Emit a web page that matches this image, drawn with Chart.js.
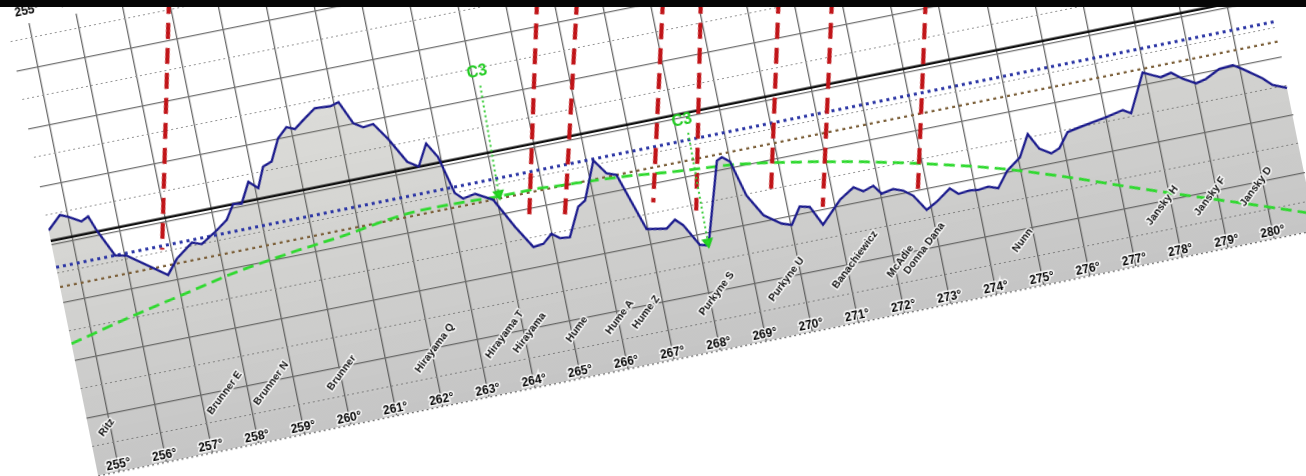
<!DOCTYPE html>
<html>
<head>
<meta charset="utf-8">
<title>Lunar limb profile 255°–280°</title>
<script src="https://cdn.jsdelivr.net/npm/chart.js@4.4.1/dist/chart.umd.min.js"></script>
<style>
  html, body { margin: 0; padding: 0; background: #fff; width: 1306px; height: 476px; overflow: hidden; }
  /* the whole plot is tilted so that the limb runs uphill to the right */
  #frame { position: absolute; left: -7.785px; top: -0.299px; width: 1270px; height: 500px;
           transform-origin: 0 0; transform: rotate(-11.4deg); }
  #topbar { position: absolute; left: 0; top: 0; width: 1306px; height: 7px; background: #060606; z-index: 5; }
</style>
</head>
<body>
<div id="frame"><canvas id="limb"></canvas></div>
<div id="topbar"></div>
<script>
// Axis position angles (degrees) and height grid (arcsec)
const degreeTicks = [255,256,257,258,259,260,261,262,263,264,265,266,267,268,269,270,271,272,273,274,275,276,277,278,279,280];
const heightGrid = [-2,-1.75,-1.5,-1.25,-1,-0.75,-0.5,-0.25,0,0.25,0.5,0.75,1,1.25,1.5,1.75];
const degMin = 254.53, degMax = 280.92;
const heightMin = -2, heightMax = 1.875;

// Limb profile
const profileDeg = [254.53,254.83,255.00,255.25,255.41,255.53,255.81,256.05,256.83,257.08,257.46,257.66,258.03,258.28,258.48,258.66,258.89,259.07,259.26,259.46,259.69,259.91,260.08,260.29,260.58,260.91,261.10,261.32,261.51,261.73,261.98,262.28,262.50,262.75,262.94,263.14,263.29,263.56,263.91,264.25,264.55,264.77,264.98,265.14,265.35,265.65,265.82,266.16,266.38,266.58,266.98,267.40,267.61,267.76,268.02,268.20,268.73,268.85,269.00,269.20,269.47,269.81,270.02,270.26,270.47,270.67,271.13,271.46,271.65,271.88,272.02,272.28,272.48,272.67,272.89,273.13,273.46,273.62,273.87,274.05,274.27,274.47,274.73,275.05,275.31,275.49,275.72,275.91,276.15,276.41,276.71,277.01,277.39,277.55,277.96,278.16,278.32,278.55,278.77,279.03,279.25,279.57,279.87,280.06,280.43,280.61,280.90];
const profileHeight = [0.12,0.23,0.20,0.14,0.17,0.04,-0.20,-0.22,-0.45,-0.33,-0.22,-0.25,-0.16,-0.09,0.03,0.02,0.19,0.12,0.29,0.32,0.50,0.58,0.55,0.61,0.69,0.68,0.70,0.50,0.45,0.46,0.31,0.09,0.03,0.21,0.08,-0.25,-0.31,-0.29,-0.37,-0.63,-0.83,-0.82,-0.75,-0.80,-0.81,-0.57,-0.53,-0.21,-0.34,-0.37,-0.87,-0.90,-0.84,-0.90,-1.09,-1.11,-0.42,-0.40,-0.45,-0.76,-0.95,-1.05,-1.08,-0.94,-0.96,-1.13,-0.95,-0.87,-0.92,-0.89,-0.97,-0.95,-0.98,-1.04,-1.18,-1.13,-1.04,-1.10,-1.09,-1.10,-1.09,-1.12,-0.99,-0.90,-0.72,-0.86,-0.92,-0.89,-0.77,-0.75,-0.73,-0.71,-0.68,-0.72,-0.40,-0.44,-0.47,-0.45,-0.52,-0.58,-0.56,-0.50,-0.49,-0.54,-0.65,-0.72,-0.77];

// Predicted path of the star relative to the limb (green dashed)
const pathDeg = [254.53,255.93,257.28,258.19,259.50,260.79,261.10,261.83,262.56,263.27,264.00,264.72,265.42,266.15,266.86,267.56,268.28,269.05,270.45,271.83,273.21,274.59,275.93,277.28,278.61,279.96,280.92];
const pathHeight = [-0.86,-0.73,-0.62,-0.545,-0.47,-0.41,-0.39,-0.35,-0.335,-0.34,-0.35,-0.35,-0.365,-0.38,-0.40,-0.43,-0.455,-0.48,-0.57,-0.68,-0.81,-0.96,-1.14,-1.34,-1.53,-1.72,-1.86];

// Reference levels
const meanLimbLevel = 0.03;      // black
const blueLevel = -0.20;         // blue dotted
const brownLevel = -0.37;        // brown dotted

// Observed events (red dashed chords)
const eventTopDeg = [258.01,265.67,266.50,268.29,269.08,270.70,271.81,273.76];
const eventTopHeight = [1.85,1.23,1.16,1.02,0.96,0.83,0.74,0.58];
const eventEndDeg = [256.81,264.56,265.33,267.23,268.09,269.70,270.74,272.79];
const eventEndHeight = [-0.23,-0.62,-0.63,-0.66,-0.80,-0.81,-0.98,-1.00];

// Contact markers
const contactNames = ['C3','C3'];
const contactLabelDeg = [264.11,268.17];
const contactLabelHeight = [0.72,-0.03];
const contactStartDeg = [264.12,268.25];
const contactStartHeight = [0.60,-0.14];
const contactTipDeg = [264.05,268.20];
const contactTipHeight = [-0.33,-1.08];

// Limb features
const craterNames = ['Ritz','Brunner E','Brunner N','Brunner','Hirayama Q','Hirayama T','Hirayama','Hume','Hume A','Hume Z','Purkyne S','Purkyne U','Banachiewicz','McAdie','Donna Dana','Nunn','Jansky H','Jansky F','Jansky D'];
const craterDeg = [254.91,257.51,258.52,260.03,262.07,263.58,264.11,265.11,266.05,266.62,268.17,269.68,271.19,272.13,272.68,274.76,277.81,278.84,279.84];

const level = (h) => [{x: degMin, y: h}, {x: degMax, y: h}];
const isMajor = (v) => { const k = (v - heightMin) / 0.5; return Math.abs(k - Math.round(k)) < 1e-6; };
const tickList = (arr) => (axis) => { axis.ticks = arr.map(v => ({value: v})); };

const datasets = [];

// grey shading under the profile
datasets.push({
  data: profileDeg.map((d, i) => ({x: d, y: profileHeight[i]})),
  borderWidth: 0, pointRadius: 0, fill: 'start', order: 9,
  backgroundColor: (c) => {
    const a = c.chart.chartArea;
    if (!a) return 'rgba(110,110,110,0.25)';
    const g = c.chart.ctx.createLinearGradient(0, a.top, 0, a.bottom);
    g.addColorStop(0, 'rgba(130,130,110,0.22)');
    g.addColorStop(1, 'rgba(75,75,75,0.32)');
    return g;
  }
});
// reference levels
datasets.push({ data: level(brownLevel), borderColor: '#7c603a', borderWidth: 2.4, borderDash: [3, 4], pointRadius: 0, order: 6 });
datasets.push({ data: level(blueLevel), borderColor: '#2a34a4', borderWidth: 3, borderDash: [3, 4], pointRadius: 0, order: 6 });
datasets.push({ data: level(meanLimbLevel), borderColor: '#111111', borderWidth: 2.5, pointRadius: 0, order: 6 });
// predicted path
datasets.push({ data: pathDeg.map((d, i) => ({x: d, y: pathHeight[i]})), borderColor: '#2fd92f', borderWidth: 2.8,
  borderDash: [11, 6], pointRadius: 0, cubicInterpolationMode: 'monotone', order: 5 });
// profile line
datasets.push({ data: profileDeg.map((d, i) => ({x: d, y: profileHeight[i]})), borderColor: '#1a1a8c', borderWidth: 2.3,
  pointRadius: 0, tension: 0, order: 4 });
// event chords
eventTopDeg.forEach((d, i) => {
  datasets.push({ data: [{x: d, y: eventTopHeight[i]}, {x: eventEndDeg[i], y: eventEndHeight[i]}],
    borderColor: '#c01418', borderWidth: 4.2, borderDash: [16, 9], pointRadius: 0, order: 2 });
});
// contact leaders
contactStartDeg.forEach((d, i) => {
  datasets.push({ data: [{x: d, y: contactStartHeight[i]}, {x: contactTipDeg[i], y: contactTipHeight[i]}],
    borderColor: '#35cc35', borderWidth: 2, borderDash: [2, 3], pointRadius: [0, 5], pointStyle: 'triangle',
    rotation: 180, pointBackgroundColor: '#22dd22', pointBorderColor: '#22cc22', order: 1 });
});

const labelFont = { family: '"Liberation Sans", Arial, sans-serif', size: 12, weight: 'bold' };

const featureLabels = {
  id: 'featureLabels',
  afterDatasetsDraw(chart) {
    const { ctx, scales: { x, y }, chartArea } = chart;
    ctx.save();
    // crater names, slanted, starting a fixed distance above the lower edge
    const ang = 42 * Math.PI / 180;
    const baseY = chartArea.bottom - 39;
    ctx.font = 'bold 10.5px "Liberation Sans", Arial, sans-serif';
    ctx.textAlign = 'left';
    ctx.textBaseline = 'middle';
    craterNames.forEach((name, i) => {
      const w = ctx.measureText(name).width;
      const sx = x.getPixelForValue(craterDeg[i]) - (w / 2) * Math.cos(ang);
      ctx.save();
      ctx.translate(sx, baseY);
      ctx.rotate(-ang);
      ctx.lineJoin = 'round';
      ctx.lineWidth = 3;
      ctx.strokeStyle = 'rgba(255,255,255,0.85)';
      ctx.strokeText(name, 0, 0);
      ctx.fillStyle = '#111';
      ctx.fillText(name, 0, 0);
      ctx.restore();
    });
    // contact labels
    ctx.font = 'bold 16px "Liberation Sans", Arial, sans-serif';
    ctx.textAlign = 'center';
    contactNames.forEach((name, i) => {
      ctx.fillStyle = '#22cc22';
      ctx.fillText(name, x.getPixelForValue(contactLabelDeg[i]), y.getPixelForValue(contactLabelHeight[i]));
    });
    ctx.restore();
  }
};

new Chart(document.getElementById('limb'), {
  type: 'line',
  data: { datasets },
  options: {
    responsive: true,
    maintainAspectRatio: false,
    animation: false,
    devicePixelRatio: 1,
    layout: { padding: { left: 10, right: 17, top: 5, bottom: 12.75 } },
    plugins: { legend: { display: false }, tooltip: { enabled: false } },
    scales: {
      x: {
        type: 'linear', position: 'bottom', min: degMin, max: degMax,
        grid: { color: '#6a6a6a', lineWidth: 1.3, drawTicks: false },
        border: { display: false },
        ticks: { display: false },
        afterBuildTicks: tickList(degreeTicks),
        afterFit: (a) => { a.height = 0; }
      },
      xl: {
        type: 'linear', position: 'bottom', min: degMin, max: degMax,
        grid: { display: false, drawTicks: false },
        border: { display: false },
        ticks: { mirror: true, padding: -0.7, z: 1, color: '#000', font: labelFont, maxRotation: 0, autoSkip: false,
          textStrokeColor: 'rgba(255,255,255,0.9)', textStrokeWidth: 3,
          callback: (v) => v + '°' },
        afterBuildTicks: tickList(degreeTicks),
        afterFit: (a) => { a.height = 0; }
      },
      xt: {
        type: 'linear', position: 'top', min: degMin, max: degMax,
        grid: { display: false, drawTicks: false },
        border: { display: false },
        ticks: { padding: 5.5, color: '#000', font: labelFont, maxRotation: 0, autoSkip: false,
          callback: (v) => v + '°' },
        afterBuildTicks: tickList(degreeTicks),
        afterFit: (a) => { a.height = 25; }
      },
      y: {
        type: 'linear', min: heightMin, max: heightMax,
        grid: {
          drawTicks: false,
          color: (c) => isMajor(c.tick.value) ? '#717171' : '#959595',
          lineWidth: (c) => isMajor(c.tick.value) ? 1.3 : 1.1
        },
        border: { display: false, dash: (c) => (c.tick && !isMajor(c.tick.value)) || (c.tick && c.tick.value === heightMin) ? [2, 3] : [] },
        ticks: { display: false },
        afterBuildTicks: tickList(heightGrid),
        afterFit: (a) => { a.width = 0; }
      }
    }
  },
  plugins: [featureLabels]
});
</script>
</body>
</html>
